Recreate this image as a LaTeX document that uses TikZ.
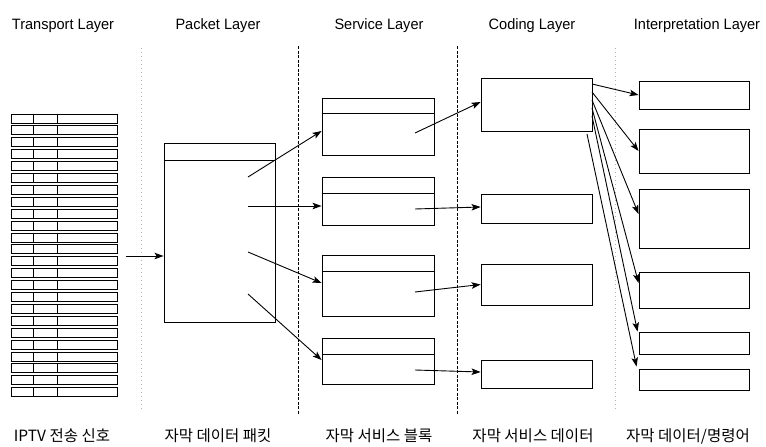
\documentclass[tikz,border=0pt]{standalone}
\usepackage{fontspec}
\setmainfont{Liberation Sans}
\newfontfamily\hdfont[FakeStretch=0.97]{Liberation Sans}
\newfontfamily\kofont{Noto Sans CJK KR}
\usetikzlibrary{arrows.meta,fit}
\begin{document}
\begin{tikzpicture}[x=1pt,y=-1pt,
  box/.style={draw, line width=0.9pt, inner sep=0pt, fit={#1}},
  rowbox/.style={draw, line width=0.9pt, inner sep=0pt, minimum width=106pt, minimum height=9pt},
  arr/.style={line width=0.9pt, -{Stealth[length=9pt,width=6.5pt,inset=2pt]}},
  hd/.style={anchor=base, font=\hdfont\fontsize{15}{18}\selectfont},
  lb/.style={anchor=base, font=\kofont\fontsize{15.5}{18}\selectfont},
  dashdiv/.style={line width=0.8pt, dash pattern=on 3pt off 1.5pt},
  dotdiv/.style={line width=0.6pt, gray!60, dash pattern=on 1pt off 3pt}]
\useasboundingbox (0,0) rectangle (766,447);

% headers
\node[hd] (h1) at (63,29) {Transport Layer};
\node[hd] (h2) at (218,29) {Packet Layer};
\node[hd] (h3) at (379,29) {Service Layer};
\node[hd] (h4) at (532,29) {Coding Layer};
\node[hd] (h5) at (697,29) {Interpretation Layer};

% bottom labels
\node[lb] (b1) at (62,441) {IPTV 전송 신호};
\node[lb] (b2) at (218,441) {자막 데이터 패킷};
\node[lb] (b3) at (379,441) {자막 서비스 블록};
\node[lb] (b4) at (533,441) {자막 서비스 데이터};
\node[lb] (b5) at (688,441) {자막 데이터/명령어};

% dividers
\coordinate (d1t) at (141,48); \coordinate (d1b) at (141,412);
\coordinate (d2t) at (298,46); \coordinate (d2b) at (298,414);
\coordinate (d3t) at (457,46); \coordinate (d3b) at (457,414);
\coordinate (d4t) at (615,48); \coordinate (d4b) at (615,412);
\draw[dotdiv] (d1t) -- (d1b);
\draw[dashdiv] (d2t) -- (d2b);
\draw[dashdiv] (d3t) -- (d3b);
\draw[dotdiv] (d4t) -- (d4b);

% transport rows
\foreach \i in {0,...,23}{
  \node[rowbox] (t\i) at (64,{118.5+\i*11.9}) {};
  \draw[line width=0.9pt] (t\i.north -| 33,0) -- (t\i.south -| 33,0);
  \draw[line width=0.9pt] (t\i.north -| 57,0) -- (t\i.south -| 57,0);
}

% packet
\node[box={(164,143) (275,322)}] (p) {};
\draw[line width=0.9pt] (p.west |- 0,160) -- (p.east |- 0,160);

% service blocks
\node[box={(322,98) (434,155)}] (s1) {};
\node[box={(322,177) (434,225)}] (s2) {};
\node[box={(322,255) (434,316)}] (s3) {};
\node[box={(322,338) (434,384)}] (s4) {};
\draw[line width=0.9pt] (s1.west |- 0,113) -- (s1.east |- 0,113);
\draw[line width=0.9pt] (s2.west |- 0,193) -- (s2.east |- 0,193);
\draw[line width=0.9pt] (s3.west |- 0,271) -- (s3.east |- 0,271);
\draw[line width=0.9pt] (s4.west |- 0,354) -- (s4.east |- 0,354);

% coding
\node[box={(481,78) (592,131)}] (c1) {};
\node[box={(481,194) (592,223)}] (c2) {};
\node[box={(481,264) (592,305)}] (c3) {};
\node[box={(481,360) (592,388)}] (c4) {};

% interpretation
\node[box={(639,81) (749,109)}] (i1) {};
\node[box={(639,129) (749,173)}] (i2) {};
\node[box={(639,189) (749,248)}] (i3) {};
\node[box={(639,272) (749,308)}] (i4) {};
\node[box={(639,332) (749,354)}] (i5) {};
\node[box={(639,369) (749,390)}] (i6) {};

% transport -> packet
\coordinate (ts) at (126,256);
\draw[arr] (ts) -- (ts -| p.west);

% packet -> service
\coordinate (ps1) at (248,177);
\coordinate (ps2) at (248,206);
\coordinate (ps3) at (248,252);
\coordinate (ps4) at (248,294);
\draw[arr] (ps1) -- ([yshift=-4.5pt]s1.west);
\draw[arr] (ps2) -- (ps2 -| s2.west);
\draw[arr] (ps3) -- ([yshift=2.5pt]s3.west);
\draw[arr] (ps4) -- ([yshift=1pt]s4.west);

% service -> coding
\coordinate (sc1) at (415,133);
\coordinate (sc2) at (415,209);
\coordinate (sc3) at (415,292);
\coordinate (sc4) at (415,370);
\draw[arr] (sc1) -- ([yshift=2.5pt]c1.west);
\draw[arr] (sc2) -- ([yshift=1.5pt]c2.west);
\draw[arr] (sc3) -- (c3.west);
\draw[arr] (sc4) -- ([yshift=2pt]c4.west);

% coding -> interpretation
\coordinate (ci1) at (592,84);
\coordinate (ci2) at (592,92);
\coordinate (ci3) at (592,100);
\coordinate (ci4) at (592,108);
\coordinate (ci5) at (592,116);
\coordinate (ci6) at (587,134);
\draw[arr] (ci1) -- (i1.west);
\draw[arr] (ci2) -- (i2.west);
\draw[arr] (ci3) -- ([yshift=4.5pt]i3.west);
\draw[arr] (ci4) -- ([yshift=7pt]i4.west);
\draw[arr] (ci5) -- ([xshift=-1pt]i5.north west);
\draw[arr] (ci6) -- ([xshift=-2pt,yshift=2pt]i6.north west);
\end{tikzpicture}
\end{document}
